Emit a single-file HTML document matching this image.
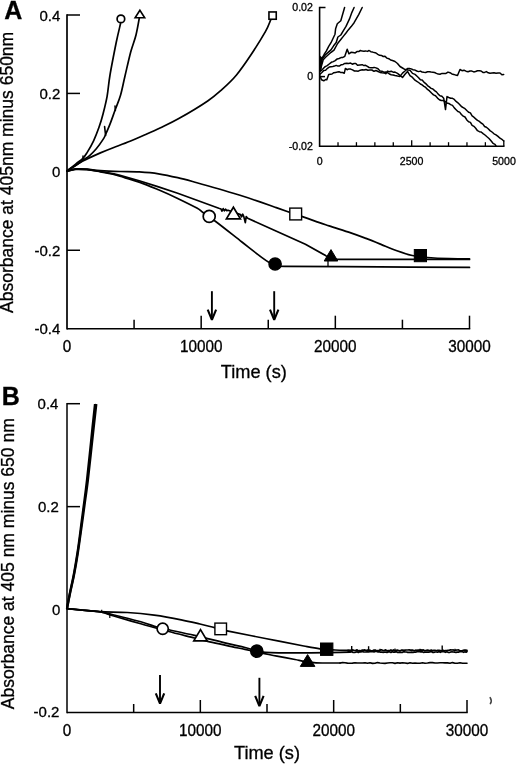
<!DOCTYPE html>
<html><head><meta charset="utf-8"><title>Figure</title>
<style>
html,body{margin:0;padding:0;background:#fff;}
body{width:520px;height:765px;overflow:hidden;}
svg{display:block;will-change:transform;font-family:"Liberation Sans",sans-serif;fill:#000;}
text{stroke:#000;stroke-width:0.3px;}
</style></head><body>
<svg width="520" height="765" viewBox="0 0 520 765">
<rect x="0" y="0" width="520" height="765" fill="#fff"/>
<line x1="67.00" y1="14.25" x2="67.00" y2="329.40" stroke="#000" stroke-width="1.7"/>
<line x1="67.00" y1="328.70" x2="470.25" y2="328.70" stroke="#000" stroke-width="1.4"/>
<line x1="67.00" y1="15.00" x2="80.00" y2="15.00" stroke="#000" stroke-width="1.5"/>
<text transform="translate(60.30 20.60) scale(1 1.03)" font-size="15.0" text-anchor="end" font-weight="normal" >0.4</text>
<line x1="67.00" y1="93.42" x2="80.00" y2="93.42" stroke="#000" stroke-width="1.5"/>
<text transform="translate(60.30 99.02) scale(1 1.03)" font-size="15.0" text-anchor="end" font-weight="normal" >0.2</text>
<text transform="translate(60.30 177.45) scale(1 1.03)" font-size="15.0" text-anchor="end" font-weight="normal" >0</text>
<line x1="67.00" y1="250.27" x2="80.00" y2="250.27" stroke="#000" stroke-width="1.5"/>
<text transform="translate(60.30 255.87) scale(1 1.03)" font-size="15.0" text-anchor="end" font-weight="normal" >-0.2</text>
<text transform="translate(60.30 334.30) scale(1 1.03)" font-size="15.0" text-anchor="end" font-weight="normal" >-0.4</text>
<text transform="translate(67.00 352.00) scale(1 1.03)" font-size="15.3" text-anchor="middle" font-weight="normal" >0</text>
<line x1="134.08" y1="328.70" x2="134.08" y2="319.70" stroke="#000" stroke-width="1.5"/>
<line x1="201.17" y1="328.70" x2="201.17" y2="315.70" stroke="#000" stroke-width="1.5"/>
<text transform="translate(201.17 352.00) scale(1 1.03)" font-size="15.3" text-anchor="middle" font-weight="normal" >10000</text>
<line x1="268.25" y1="328.70" x2="268.25" y2="319.70" stroke="#000" stroke-width="1.5"/>
<line x1="335.33" y1="328.70" x2="335.33" y2="315.70" stroke="#000" stroke-width="1.5"/>
<text transform="translate(335.33 352.00) scale(1 1.03)" font-size="15.3" text-anchor="middle" font-weight="normal" >20000</text>
<line x1="402.42" y1="328.70" x2="402.42" y2="319.70" stroke="#000" stroke-width="1.5"/>
<line x1="469.50" y1="328.70" x2="469.50" y2="315.70" stroke="#000" stroke-width="1.5"/>
<text transform="translate(469.50 352.00) scale(1 1.03)" font-size="15.3" text-anchor="middle" font-weight="normal" >30000</text>
<text x="253.8" y="378.4" font-size="18.2" text-anchor="middle" font-weight="normal" >Time (s)</text>
<text x="13" y="172.4" font-size="17.5" text-anchor="middle" font-weight="normal" transform="rotate(-90 13 172.4)">Absorbance at 405nm minus 650nm</text>
<text x="4.2" y="18.8" font-size="25" text-anchor="start" font-weight="bold" >A</text>
<path d="M67.0,171.0 C68.5,169.8 73.5,165.7 76.2,163.6 C78.9,161.5 81.1,160.1 82.9,158.3 C84.7,156.5 85.1,155.8 86.9,152.9 C88.7,150.0 91.6,145.1 93.6,140.8 C95.6,136.5 97.4,131.8 99.0,127.3 C100.6,122.8 101.8,119.0 103.1,113.8 C104.4,108.6 105.9,102.8 107.1,96.3 C108.2,89.8 108.5,84.0 110.0,75.0 C111.5,66.0 114.5,51.0 116.2,42.5 C118.0,34.0 119.8,26.8 120.5,23.7" fill="none" stroke="#000" stroke-width="1.7" stroke-linecap="round"/>
<path d="M67.0,171.0 C68.5,170.1 73.3,167.1 76.0,165.3 C78.7,163.5 80.6,161.9 82.9,160.3 C85.2,158.7 87.4,157.5 89.6,155.6 C91.8,153.7 94.0,151.5 96.3,148.8 C98.5,146.1 101.5,141.9 103.1,139.4 C104.7,136.9 104.7,136.5 105.8,134.0 C106.9,131.5 108.2,128.6 109.8,124.6 C111.4,120.6 113.4,114.7 115.2,109.8 C117.0,104.9 119.0,100.6 120.6,95.0 C122.2,89.4 123.3,83.2 125.0,76.0 C126.7,68.8 128.9,58.8 130.7,52.0 C132.5,45.2 134.6,40.7 136.0,35.0 C137.4,29.3 138.8,20.8 139.3,18.0" fill="none" stroke="#000" stroke-width="1.7" stroke-linecap="round"/>
<path d="M67.0,171.0 C68.3,170.1 72.3,167.5 75.0,165.8 C77.7,164.1 78.7,163.2 82.9,161.0 C87.1,158.8 95.2,155.2 100.4,152.9 C105.6,150.7 108.9,149.4 113.8,147.5 C118.7,145.6 124.8,143.3 130.0,141.2 C135.2,139.1 140.0,137.0 145.0,134.8 C150.0,132.6 154.4,130.7 160.0,128.0 C165.6,125.3 170.9,123.1 178.8,118.6 C186.8,114.1 200.5,105.9 207.7,101.0 C214.9,96.1 217.3,93.7 222.1,89.4 C226.9,85.1 231.7,80.8 236.5,75.0 C241.3,69.2 246.2,62.0 251.0,54.8 C255.8,47.6 262.1,37.5 265.4,31.7 C268.7,25.9 269.7,22.1 270.6,20.2" fill="none" stroke="#000" stroke-width="1.7" stroke-linecap="round"/>
<path d="M104.6,126.6 L105.6,135.5" fill="none" stroke="#000" stroke-width="1.6" stroke-linejoin="round" stroke-linecap="round" />
<path d="M115.0,106.0 L115.4,110.5" fill="none" stroke="#000" stroke-width="1.5" stroke-linejoin="round" stroke-linecap="round" />
<path d="M83.0,156.0 L83.0,160.0" fill="none" stroke="#000" stroke-width="1.5" stroke-linejoin="round" stroke-linecap="round" />
<circle cx="120.9" cy="18.9" r="3.8" fill="#fff" stroke="#000" stroke-width="1.7"/>
<polygon points="139.9,10.2 135.1,17.799999999999997 144.70000000000002,17.799999999999997" fill="#fff" stroke="#000" stroke-width="1.6" stroke-linejoin="miter"/>
<rect x="268.95000000000005" y="11.95" width="7.3" height="7.3" fill="#fff" stroke="#000" stroke-width="1.6"/>
<path d="M67.0,171.2 C68.5,170.9 72.7,169.5 76.0,169.2 C79.3,168.9 82.9,169.2 87.0,169.6 C91.1,170.0 95.9,171.0 100.4,171.8 C104.9,172.6 110.5,173.6 113.8,174.3 C117.1,175.1 115.8,175.0 120.0,176.3 C124.2,177.6 132.8,179.8 139.2,182.1 C145.6,184.3 152.1,187.1 158.5,189.8 C164.9,192.5 171.3,195.4 177.7,198.5 C184.1,201.6 192.7,205.8 196.9,208.1 C201.1,210.4 199.8,210.2 203.0,212.5 C206.2,214.8 209.5,216.9 216.0,221.8 C222.5,226.7 234.2,236.0 241.9,242.0 C249.6,248.0 257.3,254.1 262.0,257.6 C266.7,261.1 267.7,261.7 270.0,263.0 C272.3,264.3 273.5,264.9 276.0,265.5 C278.5,266.1 267.7,266.1 285.0,266.3 C302.3,266.5 349.2,266.7 380.0,266.9 C410.8,267.1 454.6,267.3 469.5,267.4" fill="none" stroke="#000" stroke-width="1.7" stroke-linecap="round"/>
<path d="M67.0,171.2 L76.0,169.1 L87.0,169.4 L100.4,171.5 L113.8,173.8 L120.0,175.4 L139.2,180.8 L158.5,186.9 L177.7,193.3 L196.9,200.2 L218.8,208.3 L221.0,209.0 L222.0,211.0 L223.2,208.6 L224.4,210.8 L225.6,209.2 L226.8,210.6 L228.0,210.2 L240.5,214.6 L241.5,216.8 L242.7,214.2 L243.8,216.6 L245.3,222.6 L246.2,216.6 L247.7,218.3 L276.5,231.2 L305.4,244.3 L325.6,255.6 L331.0,259.0 L340.0,259.4 L469.5,259.4" fill="none" stroke="#000" stroke-width="1.7" stroke-linejoin="round" stroke-linecap="round" />
<path d="M67.0,171.2 C68.5,170.8 72.7,169.2 76.0,168.9 C79.3,168.6 82.9,168.8 87.0,169.1 C91.1,169.4 94.9,170.2 100.4,170.6 C105.9,171.0 113.5,171.3 120.0,171.5 C126.5,171.7 132.8,171.5 139.2,171.9 C145.6,172.3 152.1,172.8 158.5,173.8 C164.9,174.8 171.3,176.2 177.7,177.7 C184.1,179.2 189.8,180.8 196.9,182.7 C204.0,184.6 212.8,187.1 220.0,189.2 C227.2,191.3 233.3,193.2 240.0,195.3 C246.7,197.4 254.2,199.9 260.0,201.9 C265.8,203.9 270.1,205.5 275.0,207.2 C279.9,208.9 284.8,210.7 289.4,212.3 C294.0,213.9 298.1,215.1 302.4,216.6 C306.7,218.1 310.5,219.5 315.0,221.1 C319.5,222.7 323.2,223.9 329.2,225.9 C335.2,227.9 344.7,230.8 350.8,232.9 C356.9,235.0 360.9,236.5 366.0,238.4 C371.1,240.3 376.4,242.5 381.5,244.6 C386.6,246.7 391.8,249.0 396.9,250.8 C402.0,252.6 407.2,254.4 412.3,255.5 C417.4,256.6 421.6,257.0 427.7,257.5 C433.8,258.0 442.2,258.4 449.2,258.6 C456.2,258.8 466.1,258.8 469.5,258.8" fill="none" stroke="#000" stroke-width="1.7" stroke-linecap="round"/>
<line x1="328.00" y1="260.00" x2="328.00" y2="266.50" stroke="#000" stroke-width="1.3"/>
<circle cx="209.2" cy="216.4" r="6.0" fill="#fff" stroke="#000" stroke-width="1.7"/>
<polygon points="233.4,207.2 226.4,218.79999999999998 240.4,218.79999999999998" fill="#fff" stroke="#000" stroke-width="1.7" stroke-linejoin="miter"/>
<rect x="289.8" y="208.1" width="11.8" height="11.8" fill="#fff" stroke="#000" stroke-width="1.4"/>
<circle cx="275.1" cy="264" r="6.0" fill="#000" stroke="#000" stroke-width="1.7"/>
<polygon points="331,249.6 324.2,261.0 337.8,261.0" fill="#000" stroke="#000" stroke-width="1.0" stroke-linejoin="miter"/>
<rect x="414.29999999999995" y="249.5" width="12.2" height="12.2" fill="#000" stroke="#000" stroke-width="1.0"/>
<line x1="211.90" y1="291.20" x2="211.90" y2="318.90" stroke="#000" stroke-width="1.9"/><path d="M207.7,309.6 L211.9,319.9 L216.1,309.6" fill="none" stroke="#000" stroke-width="2.1" stroke-linejoin="bevel" stroke-linecap="butt"/>
<line x1="274.20" y1="291.20" x2="274.20" y2="318.90" stroke="#000" stroke-width="1.9"/><path d="M270.0,309.6 L274.2,319.9 L278.4,309.6" fill="none" stroke="#000" stroke-width="2.1" stroke-linejoin="bevel" stroke-linecap="butt"/>
<line x1="319.60" y1="6.80" x2="319.60" y2="147.00" stroke="#000" stroke-width="1.6"/>
<line x1="319.60" y1="146.20" x2="504.50" y2="146.20" stroke="#000" stroke-width="1.6"/>
<line x1="319.60" y1="7.50" x2="325.50" y2="7.50" stroke="#000" stroke-width="1.5"/>
<line x1="319.60" y1="76.60" x2="325.00" y2="76.60" stroke="#000" stroke-width="1.5"/>
<line x1="338.02" y1="146.20" x2="338.02" y2="142.20" stroke="#000" stroke-width="1.3"/>
<line x1="356.44" y1="146.20" x2="356.44" y2="142.20" stroke="#000" stroke-width="1.3"/>
<line x1="374.86" y1="146.20" x2="374.86" y2="142.20" stroke="#000" stroke-width="1.3"/>
<line x1="393.28" y1="146.20" x2="393.28" y2="142.20" stroke="#000" stroke-width="1.3"/>
<line x1="411.70" y1="146.20" x2="411.70" y2="140.20" stroke="#000" stroke-width="1.3"/>
<line x1="430.12" y1="146.20" x2="430.12" y2="142.20" stroke="#000" stroke-width="1.3"/>
<line x1="448.54" y1="146.20" x2="448.54" y2="142.20" stroke="#000" stroke-width="1.3"/>
<line x1="466.96" y1="146.20" x2="466.96" y2="142.20" stroke="#000" stroke-width="1.3"/>
<line x1="485.38" y1="146.20" x2="485.38" y2="142.20" stroke="#000" stroke-width="1.3"/>
<line x1="503.80" y1="146.20" x2="503.80" y2="140.20" stroke="#000" stroke-width="1.3"/>
<text x="312.9" y="11.2" font-size="10.6" text-anchor="end" font-weight="normal" >0.02</text>
<text x="313.2" y="80.2" font-size="10.6" text-anchor="end" font-weight="normal" >0</text>
<text x="312.9" y="150.4" font-size="10.6" text-anchor="end" font-weight="normal" >-0.02</text>
<text x="319.6" y="164.6" font-size="10.6" text-anchor="middle" font-weight="normal" >0</text>
<text x="411.6" y="164.6" font-size="10.6" text-anchor="middle" font-weight="normal" >2500</text>
<text x="504" y="164.6" font-size="10.6" text-anchor="middle" font-weight="normal" >5000</text>
<path d="M320.3,70.0 L321.8,58.6 L324.1,54.5 L326.4,50.9 L328.7,46.4 L331.0,42.7 L333.0,38.5 L335.0,34.2 L335.6,28.8 L337.3,23.8 L340.8,20.7 L344.6,7.5" fill="none" stroke="#000" stroke-width="1.5" stroke-linejoin="round" stroke-linecap="round" />
<path d="M320.3,70.0 L321.8,59.6 L325.2,55.0 L328.1,52.4 L331.0,49.9 L333.6,45.8 L336.2,42.5 L337.9,37.0 L340.8,35.0 L343.4,30.6 L346.0,26.4 L349.5,18.9 L351.8,12.6 L354.1,7.5" fill="none" stroke="#000" stroke-width="1.5" stroke-linejoin="round" stroke-linecap="round" />
<path d="M320.3,70.0 L323.2,59.7 L325.8,57.0 L328.3,54.7 L331.1,52.3 L334.0,50.1 L337.6,43.5 L340.8,39.5 L343.7,35.9 L346.0,33.0 L348.3,29.9 L351.2,26.6 L354.1,22.7 L356.4,18.7 L358.7,14.7 L362.2,7.5" fill="none" stroke="#000" stroke-width="1.5" stroke-linejoin="round" stroke-linecap="round" />
<path d="M319.2,55 L322.6,57.8 L321,70 L319.2,72 Z" fill="#000"/>
<path d="M320.0,71.5 L321.7,70.2 L323.5,68.3 L325.2,66.6 L327.2,65.6 L329.2,64.0 L331.3,62.3 L333.3,61.6 L335.2,60.6 L337.2,58.9 L339.1,58.5 L341.0,57.6 L342.9,57.4 L344.8,56.3 L347.2,49.3 L348.9,53.8 L351.0,52.3 L353.1,52.6 L355.2,52.9 L356.9,51.6 L358.7,51.6 L360.4,50.5 L362.2,51.1 L363.9,51.2 L365.6,50.9 L367.4,51.4 L369.1,50.5 L370.8,51.7 L372.6,52.1 L374.3,52.6 L376.0,53.0 L377.8,54.4 L379.6,55.3 L381.4,55.4 L383.2,56.5 L385.0,56.3 L386.9,58.1 L388.8,58.7 L390.6,60.0 L392.5,60.5 L395.0,61.5 L397.5,63.5 L400.0,66.5 L402.5,68.0 L404.4,69.2 L406.2,69.4 L408.1,69.9 L410.0,70.3 L412.5,73.4 L415.0,74.4 L416.8,76.0 L418.6,77.7 L420.4,79.8 L422.1,80.1 L423.9,82.1 L425.7,83.6 L427.5,85.6 L429.3,86.9 L431.1,88.4 L432.9,89.0 L434.6,90.6 L436.4,91.9 L438.2,94.1 L440.0,95.7 L441.9,96.3 L443.7,98.2 L445.5,109.6 L447.0,96.6 L448.8,97.5 L450.7,98.3 L452.5,98.3 L454.3,99.4 L456.1,101.4 L457.9,102.8 L459.6,104.5 L461.4,106.5 L463.2,107.6 L465.0,108.7 L466.8,110.5 L468.6,112.2 L470.4,112.9 L472.1,115.8 L473.9,117.2 L475.7,118.9 L477.5,120.4 L479.3,121.4 L481.1,123.0 L482.9,124.1 L484.6,126.5 L486.4,127.2 L488.2,128.8 L490.0,130.6 L492.0,132.0 L494.0,133.8 L496.0,134.9 L498.0,136.4 L500.0,138.2 L501.9,139.3 L503.7,141.0" fill="none" stroke="#000" stroke-width="1.5" stroke-linejoin="round" stroke-linecap="round" />
<path d="M320.0,74.2 L321.9,72.5 L323.8,70.4 L325.6,70.2 L327.5,68.3 L329.2,67.1 L331.0,66.8 L332.8,66.5 L334.5,66.1 L336.2,65.4 L337.9,66.1 L339.6,65.9 L341.4,64.7 L343.1,64.4 L344.8,63.4 L346.7,63.2 L348.7,63.4 L350.6,63.1 L352.3,64.2 L354.1,63.5 L355.8,63.5 L357.5,65.2 L359.9,64.9 L362.2,64.7 L363.9,65.6 L365.6,65.3 L367.4,66.4 L369.1,67.5 L370.8,67.7 L372.5,67.8 L374.2,67.4 L376.0,67.9 L378.0,68.8 L380.0,70.9 L381.9,71.2 L383.8,72.2 L385.6,72.1 L387.5,72.6 L389.4,74.0 L391.2,74.7 L393.1,75.0 L395.0,75.5 L397.5,76.0 L400.0,76.4 L402.5,73.1 L405.0,71.0 L407.5,68.5 L409.4,68.4 L411.2,68.9 L413.1,69.7 L415.0,70.1 L416.8,71.0 L418.6,71.6 L420.4,71.1 L422.1,72.0 L423.9,72.3 L425.7,72.5 L427.5,71.8 L429.3,71.8 L431.1,72.1 L432.9,72.3 L434.6,72.5 L436.4,73.4 L438.2,74.1 L440.0,74.2 L442.0,73.4 L444.0,73.4 L446.0,73.4 L448.0,72.1 L450.0,72.7 L451.9,73.9 L453.8,74.4 L455.6,75.1 L457.5,75.5 L460.0,69.5 L462.0,70.7 L464.0,70.2 L466.0,71.2 L468.0,71.7 L470.0,71.0 L471.9,71.1 L473.8,71.9 L475.6,71.5 L477.5,70.7 L479.3,70.8 L481.1,71.0 L482.9,72.4 L484.6,72.4 L486.4,71.6 L488.2,72.8 L490.0,73.2 L492.0,73.0 L494.0,72.8 L496.0,73.3 L498.0,72.9 L500.0,73.0 L501.9,74.8 L503.7,74.5" fill="none" stroke="#000" stroke-width="1.5" stroke-linejoin="round" stroke-linecap="round" />
<path d="M320.0,76.0 L321.5,79.8 L323.8,80.8 L325.6,79.5 L326.8,79.7 L328.7,74.4 L332.0,74.0 L333.8,72.7 L335.6,72.4 L337.3,72.1 L339.1,71.7 L340.8,72.6 L342.6,72.5 L344.3,73.2 L345.4,68.4 L347.1,69.7 L348.9,68.9 L350.6,69.1 L352.5,69.9 L354.5,71.0 L356.4,70.9 L358.3,71.2 L360.3,70.2 L362.2,69.8 L364.1,70.0 L366.0,69.5 L367.9,70.3 L369.9,70.1 L371.9,70.0 L374.0,71.3 L376.0,70.5 L378.0,71.5 L380.0,72.4 L382.0,72.7 L384.0,72.9 L386.0,73.7 L387.5,71.1 L389.4,71.8 L391.2,71.2 L393.1,72.2 L395.0,72.1 L397.5,73.4 L400.0,75.4 L402.5,77.5 L405.0,74.3 L407.5,71.4 L410.0,75.6 L412.5,77.4 L415.0,80.2 L416.8,81.3 L418.6,82.5 L420.4,84.0 L422.1,84.9 L423.9,86.3 L425.7,87.4 L427.5,89.4 L429.5,90.9 L431.5,93.0 L433.5,94.9 L435.5,95.8 L437.5,98.1 L439.4,99.7 L441.2,100.5 L443.1,100.5 L445.0,101.4 L446.9,102.9 L448.8,103.4 L450.6,104.6 L452.5,105.4 L454.3,107.9 L456.1,109.7 L457.9,111.5 L459.6,112.1 L461.4,114.5 L463.2,116.1 L465.0,117.0 L466.8,119.9 L468.6,121.8 L470.4,122.4 L472.1,125.3 L473.9,126.3 L475.7,128.2 L477.5,130.7 L479.4,131.7 L481.2,132.0 L483.1,133.6 L485.0,135.0 L487.0,136.8 L489.0,138.5 L491.0,140.7 L493.0,143.3 L495.0,144.3 L496.0,146.0" fill="none" stroke="#000" stroke-width="1.5" stroke-linejoin="round" stroke-linecap="round" />
<line x1="67.00" y1="402.95" x2="67.00" y2="713.20" stroke="#000" stroke-width="1.5"/>
<line x1="67.00" y1="712.50" x2="467.75" y2="712.50" stroke="#000" stroke-width="1.4"/>
<line x1="67.00" y1="403.70" x2="80.00" y2="403.70" stroke="#000" stroke-width="1.5"/>
<text transform="translate(58.40 408.90) scale(1 1.03)" font-size="15.0" text-anchor="end" font-weight="normal" >0.4</text>
<line x1="67.00" y1="506.63" x2="80.00" y2="506.63" stroke="#000" stroke-width="1.5"/>
<text transform="translate(58.80 512.03) scale(1 1.03)" font-size="15.0" text-anchor="end" font-weight="normal" >0.2</text>
<text transform="translate(60.30 614.97) scale(1 1.03)" font-size="15.0" text-anchor="end" font-weight="normal" >0</text>
<text transform="translate(59.40 717.40) scale(1 1.03)" font-size="15.0" text-anchor="end" font-weight="normal" >-0.2</text>
<text transform="translate(67.00 735.80) scale(1 1.03)" font-size="15.3" text-anchor="middle" font-weight="normal" >0</text>
<line x1="133.67" y1="712.50" x2="133.67" y2="704.00" stroke="#000" stroke-width="1.5"/>
<line x1="200.33" y1="712.50" x2="200.33" y2="700.00" stroke="#000" stroke-width="1.5"/>
<text transform="translate(200.33 735.80) scale(1 1.03)" font-size="15.3" text-anchor="middle" font-weight="normal" >10000</text>
<line x1="267.00" y1="712.50" x2="267.00" y2="704.00" stroke="#000" stroke-width="1.5"/>
<line x1="333.67" y1="712.50" x2="333.67" y2="700.00" stroke="#000" stroke-width="1.5"/>
<text transform="translate(333.67 735.80) scale(1 1.03)" font-size="15.3" text-anchor="middle" font-weight="normal" >20000</text>
<line x1="400.33" y1="712.50" x2="400.33" y2="704.00" stroke="#000" stroke-width="1.5"/>
<line x1="467.00" y1="712.50" x2="467.00" y2="700.00" stroke="#000" stroke-width="1.5"/>
<text transform="translate(467.00 735.80) scale(1 1.03)" font-size="15.3" text-anchor="middle" font-weight="normal" >30000</text>
<text x="267" y="759" font-size="18.2" text-anchor="middle" font-weight="normal" >Time (s)</text>
<text x="14" y="563.7" font-size="17.5" text-anchor="middle" font-weight="normal" transform="rotate(-90 14 563.7)">Absorbance at 405 nm minus 650 nm</text>
<text x="1.7" y="405.3" font-size="25" text-anchor="start" font-weight="bold" >B</text>
<path d="M67.0,608.7 C67.5,606.0 68.9,598.1 70.0,592.5 C71.1,586.9 72.5,581.7 73.7,575.0 C75.0,568.3 76.2,560.8 77.5,552.5 C78.8,544.2 80.2,532.8 81.2,525.0 C82.2,517.2 82.7,513.5 83.7,506.0 C84.7,498.5 85.8,490.7 87.0,480.0 C88.2,469.3 89.7,454.7 91.0,442.0 C92.3,429.3 94.3,410.3 95.0,404.0" fill="none" stroke="#000" stroke-width="2.3" stroke-linecap="butt"/>
<path d="M67.0,608.7 C67.5,606.0 69.0,598.1 70.2,592.5 C71.4,586.9 72.7,581.7 74.0,575.0 C75.3,568.3 76.6,560.8 77.9,552.5 C79.2,544.2 80.7,532.8 81.8,525.0 C82.9,517.2 83.4,513.5 84.4,506.0 C85.4,498.5 86.6,490.7 87.9,480.0 C89.2,469.3 90.7,454.7 92.1,442.0 C93.5,429.3 95.6,410.3 96.3,404.0" fill="none" stroke="#000" stroke-width="2.3" stroke-linecap="butt"/>
<path d="M67.0,608.6 C69.2,608.8 74.4,609.3 80.0,609.8 C85.6,610.3 92.5,611.2 100.4,611.7 C108.3,612.2 118.3,611.9 127.3,612.5 C136.3,613.1 145.2,614.0 154.2,615.2 C163.2,616.4 173.6,618.3 181.2,619.8 C188.8,621.3 194.4,622.7 200.0,624.0 C205.6,625.3 210.1,626.6 214.6,627.7 C219.1,628.8 218.5,629.0 227.0,630.8 C235.5,632.6 252.6,636.0 265.4,638.5 C278.2,641.0 294.7,644.3 303.8,646.0 C312.9,647.7 314.8,648.1 320.0,648.8 C325.2,649.5 330.0,649.7 335.0,650.0 C340.0,650.3 347.5,650.3 350.0,650.4" fill="none" stroke="#000" stroke-width="1.7" stroke-linecap="round"/>
<path d="M67.0,608.6 C69.2,608.8 74.4,609.4 80.0,609.9 C85.6,610.4 94.8,610.9 100.4,611.8 C106.0,612.6 107.1,613.3 113.8,615.0 C120.5,616.7 133.6,619.8 140.8,621.8 C148.0,623.8 152.5,625.7 157.0,627.0 C161.5,628.3 161.4,628.1 167.7,629.5 C174.0,630.9 184.7,633.1 194.6,635.4 C204.5,637.7 218.6,641.3 227.0,643.3 C235.4,645.3 240.2,646.3 245.0,647.5 C249.8,648.7 252.6,649.8 256.0,650.6 C259.4,651.4 258.1,651.9 265.4,652.3 C272.7,652.7 285.9,652.8 300.0,652.8 C314.1,652.8 341.7,652.3 350.0,652.2" fill="none" stroke="#000" stroke-width="1.7" stroke-linecap="round"/>
<path d="M67.0,608.6 C69.2,608.8 74.4,609.4 80.0,610.0 C85.6,610.6 94.8,611.0 100.4,612.0 C106.0,613.0 107.1,614.0 113.8,616.0 C120.5,618.0 131.8,621.2 140.8,623.8 C149.8,626.3 158.7,628.9 167.7,631.3 C176.7,633.7 187.9,636.3 194.6,638.0 C201.3,639.7 202.3,640.0 207.7,641.3 C213.1,642.6 220.8,644.2 227.0,645.6 C233.2,647.0 238.9,648.1 245.0,649.4 C251.1,650.7 258.0,652.2 263.3,653.3 C268.6,654.4 271.7,655.2 277.0,656.2 C282.3,657.2 290.3,658.6 295.0,659.5 C299.7,660.4 301.5,660.9 305.0,661.4 C308.5,661.9 310.2,662.5 316.0,662.8 C321.8,663.1 336.0,663.0 340.0,663.0" fill="none" stroke="#000" stroke-width="1.7" stroke-linecap="round"/>
<line x1="101.70" y1="609.80" x2="101.70" y2="612.60" stroke="#000" stroke-width="1.2"/>
<line x1="109.80" y1="613.80" x2="109.80" y2="618.00" stroke="#000" stroke-width="1.2"/>
<path d="M348.0,650.4 L349.3,650.5 L350.6,650.3 L351.9,649.9 L353.2,650.2 L354.5,650.5 L355.8,650.4 L357.1,649.9 L358.4,650.9 L359.7,650.7 L361.0,650.9 L362.3,650.0 L363.6,650.1 L364.9,649.9 L366.2,650.7 L367.5,650.1 L368.8,650.0 L370.1,650.3 L371.4,650.9 L372.7,650.8 L374.0,650.1 L375.3,650.0 L376.6,650.9 L377.9,650.5 L379.2,650.6 L380.5,649.9 L381.8,649.9 L383.1,650.6 L384.4,650.3 L385.7,649.9 L387.0,650.9 L388.3,650.5 L389.6,650.7 L390.9,649.9 L392.2,650.8 L393.5,649.9 L394.8,650.8 L396.1,650.3 L397.4,650.2 L398.7,650.5 L400.0,650.9 L401.3,650.1 L402.6,650.0 L403.9,650.4 L405.2,650.1 L406.5,650.0 L407.8,650.0 L409.1,649.9 L410.4,650.1 L411.7,650.2 L413.0,650.2 L414.3,650.7 L415.6,650.2 L416.9,650.4 L418.2,650.0 L419.5,650.2 L420.8,649.9 L422.1,650.1 L423.4,649.9 L424.7,650.7 L426.0,650.5 L427.3,650.1 L428.6,650.4 L429.9,650.9 L431.2,650.0 L432.5,650.8 L433.8,650.3 L435.1,650.4 L436.4,650.8 L437.7,650.3 L439.0,650.4 L440.3,650.6 L441.6,650.9 L442.9,650.2 L444.2,650.8 L445.5,650.6 L446.8,650.5 L448.1,650.3 L449.4,650.2 L450.7,649.9 L452.0,650.0 L453.3,649.9 L454.6,650.7 L455.9,650.1 L457.2,650.0 L458.5,649.9 L459.8,650.8 L461.1,650.8 L462.4,650.6 L463.7,650.2 L465.0,650.1 L466.3,650.2 L467.0,650.4" fill="none" stroke="#000" stroke-width="1.7" stroke-linejoin="round" stroke-linecap="round" />
<path d="M348.0,652.0 L349.3,651.6 L350.6,651.9 L351.9,651.7 L353.2,652.5 L354.5,652.5 L355.8,652.1 L357.1,651.7 L358.4,652.5 L359.7,651.8 L361.0,651.8 L362.3,651.5 L363.6,651.9 L364.9,652.0 L366.2,652.0 L367.5,651.7 L368.8,652.0 L370.1,651.5 L371.4,651.7 L372.7,651.5 L374.0,651.9 L375.3,651.5 L376.6,651.5 L377.9,651.8 L379.2,651.7 L380.5,652.1 L381.8,652.0 L383.1,652.3 L384.4,652.2 L385.7,652.2 L387.0,652.4 L388.3,651.9 L389.6,651.8 L390.9,652.5 L392.2,651.6 L393.5,652.2 L394.8,652.2 L396.1,651.5 L397.4,652.4 L398.7,652.4 L400.0,652.1 L401.3,652.3 L402.6,652.3 L403.9,651.6 L405.2,652.0 L406.5,652.0 L407.8,652.4 L409.1,652.3 L410.4,652.4 L411.7,652.1 L413.0,652.4 L414.3,652.2 L415.6,652.2 L416.9,651.7 L418.2,651.5 L419.5,651.6 L420.8,651.8 L422.1,651.6 L423.4,652.4 L424.7,652.1 L426.0,652.1 L427.3,652.1 L428.6,652.2 L429.9,652.0 L431.2,651.5 L432.5,652.3 L433.8,652.3 L435.1,652.0 L436.4,652.0 L437.7,652.2 L439.0,651.5 L440.3,652.3 L441.6,651.7 L442.9,651.5 L444.2,651.7 L445.5,652.3 L446.8,651.7 L448.1,652.3 L449.4,652.5 L450.7,652.0 L452.0,651.9 L453.3,652.0 L454.6,652.2 L455.9,652.3 L457.2,652.1 L458.5,652.2 L459.8,651.5 L461.1,651.6 L462.4,651.7 L463.7,652.3 L465.0,651.8 L466.3,652.1 L467.0,651.5" fill="none" stroke="#000" stroke-width="1.7" stroke-linejoin="round" stroke-linecap="round" />
<line x1="351.70" y1="651.00" x2="351.70" y2="646.00" stroke="#000" stroke-width="1.4"/>
<line x1="368.60" y1="651.00" x2="368.60" y2="646.20" stroke="#000" stroke-width="1.4"/>
<line x1="442.20" y1="651.00" x2="442.20" y2="645.40" stroke="#000" stroke-width="1.4"/>
<line x1="395.00" y1="651.00" x2="395.00" y2="648.60" stroke="#000" stroke-width="1.2"/>
<line x1="420.00" y1="651.00" x2="420.00" y2="648.80" stroke="#000" stroke-width="1.2"/>
<line x1="380.00" y1="651.00" x2="380.00" y2="648.80" stroke="#000" stroke-width="1.2"/>
<line x1="455.00" y1="651.00" x2="455.00" y2="648.80" stroke="#000" stroke-width="1.2"/>
<path d="M340.0,663.0 L342.5,662.6 L345.0,662.8 L347.5,663.1 L350.0,663.2 L352.5,663.1 L355.0,662.8 L357.5,663.0 L360.0,663.0 L362.5,663.0 L365.0,662.7 L367.5,663.3 L370.0,662.8 L372.5,663.4 L375.0,663.3 L377.5,662.6 L380.0,663.0 L382.5,663.3 L385.0,663.4 L387.5,663.0 L390.0,662.8 L392.5,662.8 L395.0,663.4 L397.5,662.8 L400.0,663.1 L402.5,662.7 L405.0,663.0 L407.5,663.4 L410.0,662.7 L412.5,663.3 L415.0,663.0 L417.5,663.3 L420.0,663.2 L422.5,662.8 L425.0,663.3 L427.5,663.0 L430.0,662.6 L432.5,662.6 L435.0,663.0 L437.5,663.0 L440.0,662.8 L442.5,662.7 L445.0,662.9 L447.5,662.9 L450.0,663.3 L452.5,662.6 L455.0,663.2 L457.5,663.3 L460.0,662.7 L462.5,663.3 L465.0,663.2 L467.0,663.3" fill="none" stroke="#000" stroke-width="1.6" stroke-linejoin="round" stroke-linecap="round" />
<circle cx="162.7" cy="628.8" r="5.6" fill="#fff" stroke="#000" stroke-width="1.7"/>
<polygon points="200.5,629.6 193.8,640.8000000000001 207.2,640.8000000000001" fill="#fff" stroke="#000" stroke-width="1.7" stroke-linejoin="miter"/>
<rect x="214.89999999999998" y="623.1" width="11.6" height="11.6" fill="#fff" stroke="#000" stroke-width="1.4"/>
<circle cx="256.8" cy="651.2" r="6.0" fill="#000" stroke="#000" stroke-width="1.7"/>
<polygon points="307.6,654.6 300.3,666.4 314.90000000000003,666.4" fill="#000" stroke="#000" stroke-width="1.0" stroke-linejoin="miter"/>
<rect x="320.5" y="643.0" width="12.4" height="12.4" fill="#000" stroke="#000" stroke-width="1.0"/>
<line x1="160.00" y1="675.00" x2="160.00" y2="702.60" stroke="#000" stroke-width="1.9"/><path d="M155.8,693.3 L160.0,703.6 L164.2,693.3" fill="none" stroke="#000" stroke-width="2.1" stroke-linejoin="bevel" stroke-linecap="butt"/>
<line x1="259.40" y1="677.80" x2="259.40" y2="705.20" stroke="#000" stroke-width="1.9"/><path d="M255.2,695.9 L259.4,706.2 L263.6,695.9" fill="none" stroke="#000" stroke-width="2.1" stroke-linejoin="bevel" stroke-linecap="butt"/>
<path d="M490.2,697.6 Q492.2,700.6 490.4,703.6" fill="none" stroke="#444" stroke-width="1.6" stroke-linecap="round"/>
</svg>
</body></html>
